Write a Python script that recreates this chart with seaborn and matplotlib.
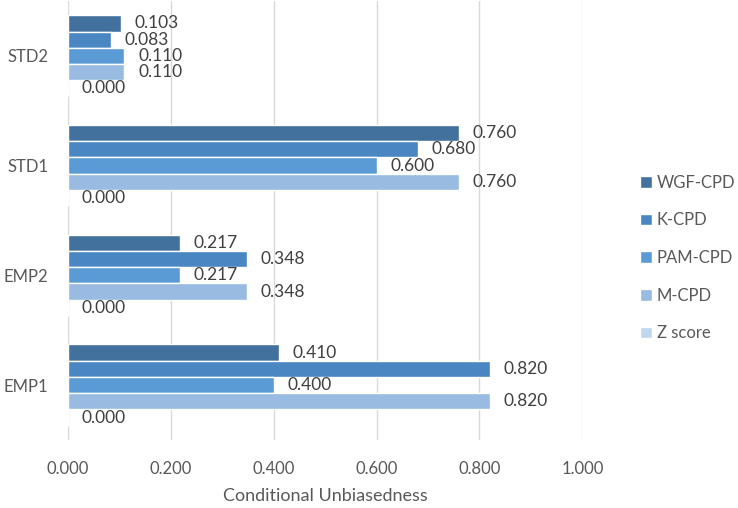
import matplotlib
matplotlib.use("Agg")
import matplotlib.pyplot as plt
import seaborn as sns
import pandas as pd

# data
categories = ["STD2", "STD1", "EMP2", "EMP1"]
methods = ["WGF-CPD", "K-CPD", "PAM-CPD", "M-CPD", "Z score"]
wgf_cpd = [0.103, 0.760, 0.217, 0.410]
k_cpd = [0.083, 0.680, 0.348, 0.820]
pam_cpd = [0.110, 0.600, 0.217, 0.400]
m_cpd = [0.110, 0.760, 0.348, 0.820]
z_score = [0.000, 0.000, 0.000, 0.000]
x_ticks = [0.0, 0.2, 0.4, 0.6, 0.8, 1.0]

colors = ["#41719C", "#4A86C2", "#5B9BD5", "#99BBE2", "#BDD7EE"]

rows = []
for m, vals in zip(methods, [wgf_cpd, k_cpd, pam_cpd, m_cpd, z_score]):
    for c, v in zip(categories, vals):
        rows.append({"category": c, "method": m, "value": v})
df = pd.DataFrame(rows)

sns.set_style("white")
plt.rcParams["font.family"] = ["Lato", "DejaVu Sans"]

fig = plt.figure(figsize=(7.38, 5.08), dpi=100)
ax = fig.add_axes([0.092, 0.134, 0.697, 0.864])

sns.barplot(data=df, x="value", y="category", hue="method", order=categories,
            hue_order=methods, palette=colors, orient="h", width=0.74,
            saturation=1, ax=ax, legend=True)

for cont in ax.containers:
    ax.bar_label(cont, fmt="%.3f", padding=10, fontsize=12.5, color="#404040")

ax.set_xlim(0, 1.0)
ax.set_xticks(x_ticks)
ax.set_xticklabels([f"{t:.3f}" for t in x_ticks])
ax.grid(axis="x", color="#D9D9D9", linewidth=1)
ax.set_axisbelow(True)
for s in ax.spines.values():
    s.set_visible(False)
ax.tick_params(axis="x", length=0, pad=15, labelsize=12, labelcolor="#595959")
ax.tick_params(axis="y", length=0, pad=14, labelsize=12, labelcolor="#595959")
ax.set_ylabel("")
ax.set_xlabel("Conditional Unbiasedness", fontsize=13, color="#595959", labelpad=8)

handles, labels = ax.get_legend_handles_labels()
ax.get_legend().remove()
fig.legend(handles, labels, loc="center left", bbox_to_anchor=(640 / 738, 0.492),
           frameon=False, fontsize=12, labelcolor="#595959", handlelength=0.7,
           handleheight=0.7, handletextpad=0.3, labelspacing=1.3,
           borderpad=0, borderaxespad=0)

fig.savefig("out.png", dpi=100)
